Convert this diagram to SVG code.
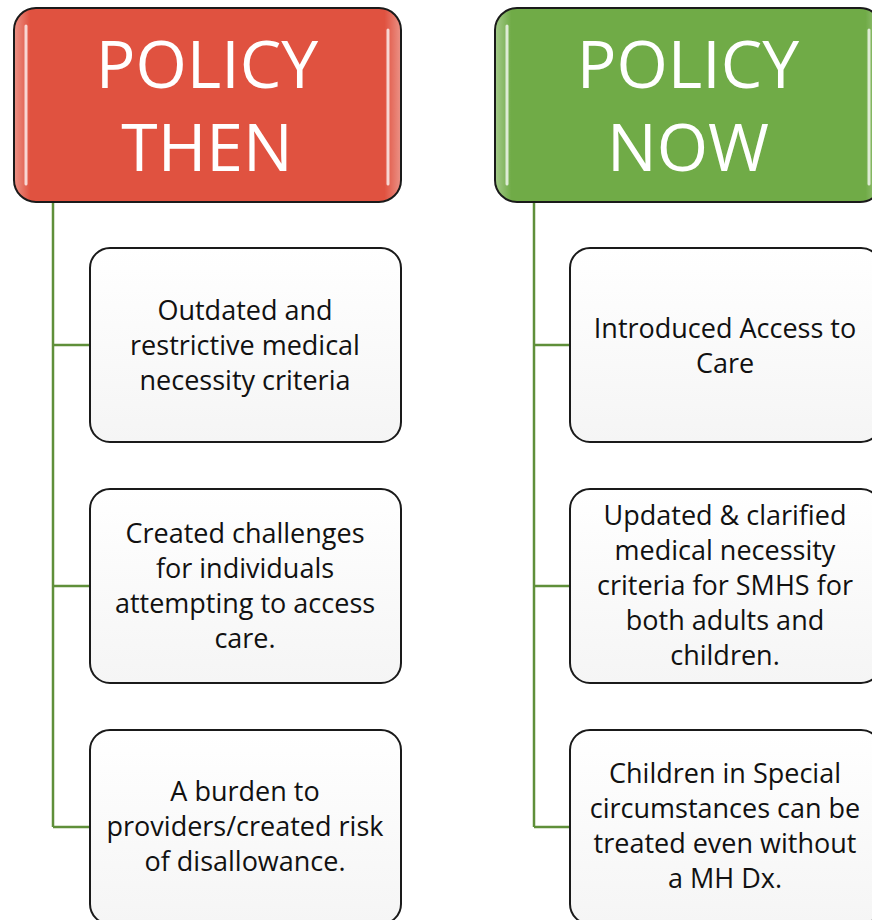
<svg xmlns="http://www.w3.org/2000/svg" width="872" height="920" viewBox="0 0 872 920">
<style>
.hdr{stroke:#1a1a1a;stroke-width:2}
.ht{font-family:"Open Sans","Noto Sans",sans-serif;font-size:66px;fill:#fff;text-anchor:middle}
.box{fill:url(#boxg);stroke:#1a1a1a;stroke-width:2}
.bt{font-family:"Open Sans","Noto Sans",sans-serif;font-size:27px;fill:#111;text-anchor:middle}
.con{fill:none;stroke:#5f8f3a;stroke-width:2.5}
.hl{stroke:#fff;stroke-width:3;stroke-linecap:round;opacity:0.75}
</style>
<defs>
<linearGradient id="boxg" x1="0" y1="0" x2="0" y2="1">
<stop offset="0" stop-color="#ffffff"/>
<stop offset="1" stop-color="#f5f5f5"/>
</linearGradient>
<linearGradient id="edge" x1="0" y1="0" x2="1" y2="0">
<stop offset="0" stop-color="#fff" stop-opacity="0.35"/>
<stop offset="0.04" stop-color="#fff" stop-opacity="0"/>
<stop offset="0.96" stop-color="#fff" stop-opacity="0"/>
<stop offset="1" stop-color="#fff" stop-opacity="0.35"/>
</linearGradient>
</defs>
<g id="connectors">
<path class="con" d="M53 202 V827 M53 345 H90 M53 586 H90 M53 827 H90"/>
<path class="con" d="M534 202 V827 M534 345 H570 M534 586 H570 M534 827 H570"/>
</g>
<g id="policy-then">
<rect class="hdr" x="14" y="8" width="387" height="194" rx="22" fill="#e05240"/>
<rect x="15" y="9" width="385" height="192" rx="21" fill="url(#edge)"/>
<line class="hl" x1="26" y1="26" x2="26" y2="184"/>
<line class="hl" x1="388" y1="30" x2="388" y2="184"/>
<text class="ht" x="207" y="88">POLICY</text>
<text class="ht" x="207" y="171">THEN</text>
</g>
<g id="policy-now">
<rect class="hdr" x="495" y="8" width="387" height="194" rx="22" fill="#70ab47"/>
<rect x="496" y="9" width="385" height="192" rx="21" fill="url(#edge)"/>
<line class="hl" x1="507" y1="26" x2="507" y2="184"/>
<line class="hl" x1="869" y1="30" x2="869" y2="184"/>
<text class="ht" x="688" y="88">POLICY</text>
<text class="ht" x="688" y="171">NOW</text>
</g>
<g id="then-1">
<rect class="box" x="90" y="248" width="311" height="194" rx="20"/>
<text class="bt"><tspan x="245" y="320">Outdated and</tspan><tspan x="245" y="355">restrictive medical</tspan><tspan x="245" y="390">necessity criteria</tspan></text>
</g>
<g id="then-2">
<rect class="box" x="90" y="489" width="311" height="194" rx="20"/>
<text class="bt"><tspan x="245" y="543">Created challenges</tspan><tspan x="245" y="578">for individuals</tspan><tspan x="245" y="613">attempting to access</tspan><tspan x="245" y="648">care.</tspan></text>
</g>
<g id="then-3">
<rect class="box" x="90" y="730" width="311" height="194" rx="20"/>
<text class="bt"><tspan x="245" y="801">A burden to</tspan><tspan x="245" y="836">providers/created risk</tspan><tspan x="245" y="871">of disallowance.</tspan></text>
</g>
<g id="now-1">
<rect class="box" x="570" y="248" width="311" height="194" rx="20"/>
<text class="bt"><tspan x="725" y="338">Introduced Access to</tspan><tspan x="725" y="373">Care</tspan></text>
</g>
<g id="now-2">
<rect class="box" x="570" y="489" width="311" height="194" rx="20"/>
<text class="bt"><tspan x="725" y="525">Updated &amp; clarified</tspan><tspan x="725" y="560">medical necessity</tspan><tspan x="725" y="595">criteria for SMHS for</tspan><tspan x="725" y="630">both adults and</tspan><tspan x="725" y="665">children.</tspan></text>
</g>
<g id="now-3">
<rect class="box" x="570" y="730" width="311" height="194" rx="20"/>
<text class="bt"><tspan x="725" y="783">Children in Special</tspan><tspan x="725" y="818">circumstances can be</tspan><tspan x="725" y="853">treated even without</tspan><tspan x="725" y="888">a MH Dx.</tspan></text>
</g>
</svg>
